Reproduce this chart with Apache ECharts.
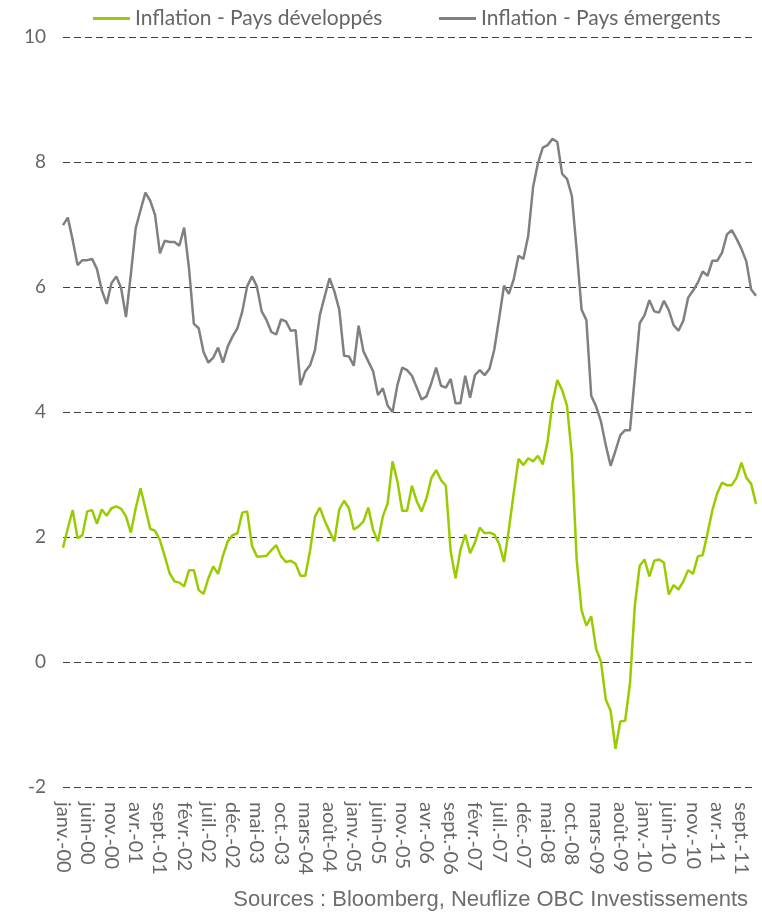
<!DOCTYPE html>
<html>
<head>
<meta charset="utf-8">
<script src="https://cdn.jsdelivr.net/npm/echarts@6/dist/echarts.min.js"></script>
<style>
  html, body { margin: 0; padding: 0; background: #fff; }
  #chart { width: 762px; height: 916px; }
</style>
</head>
<body>
<div id="chart"></div>
<script>
  // mois (format Excel fr), janv. 2000 -> déc. 2011
  const monthNames = ['janv.', 'févr.', 'mars', 'avr.', 'mai', 'juin', 'juil.', 'août', 'sept.', 'oct.', 'nov.', 'déc.'];
  const years = ['00', '01', '02', '03', '04', '05', '06', '07', '08', '09', '10', '11'];
  const categories = [];
  years.forEach(y => monthNames.forEach(m => categories.push(m + '-' + y)));

  const yTicks = { min: -2, max: 10, interval: 2 };

  // Inflation - Pays développés (%)
  const developpes = [
    1.83, 2.14, 2.43, 1.98, 2.03, 2.41, 2.43, 2.21, 2.44, 2.34, 2.46, 2.49,
    2.45, 2.33, 2.07, 2.46, 2.78, 2.46, 2.13, 2.10, 1.95, 1.69, 1.42, 1.29,
    1.27, 1.21, 1.47, 1.47, 1.15, 1.09, 1.34, 1.53, 1.41, 1.70, 1.93, 2.03,
    2.06, 2.39, 2.41, 1.86, 1.69, 1.69, 1.70, 1.79, 1.87, 1.69, 1.60, 1.62,
    1.57, 1.38, 1.38, 1.79, 2.33, 2.47, 2.26, 2.09, 1.93, 2.44, 2.58, 2.46,
    2.12, 2.17, 2.25, 2.47, 2.11, 1.93, 2.33, 2.54, 3.21, 2.89, 2.42, 2.42,
    2.82, 2.57, 2.41, 2.62, 2.94, 3.07, 2.91, 2.82, 1.77, 1.34, 1.79, 2.04,
    1.74, 1.91, 2.15, 2.06, 2.07, 2.04, 1.89, 1.60, 2.12, 2.70, 3.25, 3.15,
    3.26, 3.21, 3.30, 3.16, 3.53, 4.15, 4.51, 4.35, 4.10, 3.31, 1.63, 0.83,
    0.58, 0.73, 0.21, 0.01, -0.60, -0.78, -1.39, -0.95, -0.94, -0.34, 0.91, 1.54,
    1.64, 1.37, 1.62, 1.64, 1.59, 1.08, 1.23, 1.16, 1.29, 1.47, 1.41, 1.69,
    1.71, 2.06, 2.43, 2.70, 2.87, 2.83, 2.83, 2.95, 3.19, 2.95, 2.85, 2.53
  ];

  // Inflation - Pays émergents (%)
  const emergents = [
    6.99, 7.11, 6.75, 6.35, 6.43, 6.43, 6.45, 6.29, 5.95, 5.73, 6.06, 6.17,
    5.98, 5.52, 6.20, 6.94, 7.23, 7.51, 7.38, 7.15, 6.54, 6.74, 6.72, 6.72,
    6.66, 6.95, 6.30, 5.41, 5.34, 4.96, 4.79, 4.87, 5.03, 4.79, 5.05, 5.21,
    5.34, 5.61, 6.01, 6.17, 6.01, 5.61, 5.47, 5.28, 5.24, 5.48, 5.45, 5.30,
    5.31, 4.43, 4.65, 4.75, 4.99, 5.55, 5.85, 6.14, 5.93, 5.64, 4.90, 4.89,
    4.74, 5.38, 4.97, 4.81, 4.65, 4.27, 4.38, 4.10, 4.00, 4.43, 4.71, 4.67,
    4.58, 4.39, 4.20, 4.25, 4.46, 4.71, 4.42, 4.39, 4.53, 4.14, 4.14, 4.58,
    4.23, 4.59, 4.67, 4.59, 4.69, 5.00, 5.50, 6.02, 5.89, 6.12, 6.50, 6.45,
    6.82, 7.60, 7.98, 8.23, 8.27, 8.37, 8.32, 7.81, 7.73, 7.46, 6.59, 5.64,
    5.47, 4.26, 4.09, 3.85, 3.47, 3.14, 3.38, 3.63, 3.71, 3.71, 4.57, 5.42,
    5.55, 5.79, 5.61, 5.59, 5.78, 5.63, 5.39, 5.30, 5.46, 5.83, 5.94, 6.07,
    6.25, 6.18, 6.42, 6.42, 6.55, 6.84, 6.91, 6.77, 6.61, 6.41, 5.96, 5.86
  ];

  const textColor = '#666666';
  const fontFamily = 'Lato, "Open Sans", sans-serif';

  let chart = echarts.init(document.getElementById('chart'));
  let option = {
    animation: false,
    title: {
      text: 'Sources : Bloomberg, Neuflize OBC Investissements',
      right: 9,
      bottom: 0,
      textStyle: { color: '#6e6e6e', fontSize: 22, fontWeight: 'normal', fontFamily: '"Liberation Sans", Arial, sans-serif' }
    },
    legend: [
      {
        data: ['Inflation - Pays développés'],
        left: 88, top: 3,
        icon: 'rect', itemWidth: 37, itemHeight: 3, itemGap: 5,
        textStyle: { color: textColor, fontSize: 21, fontFamily: fontFamily }
      },
      {
        data: ['Inflation - Pays émergents'],
        left: 434, top: 3,
        icon: 'rect', itemWidth: 37, itemHeight: 3, itemGap: 5,
        textStyle: { color: textColor, fontSize: 21, fontFamily: fontFamily }
      }
    ],
    grid: { left: 63, right: 6, top: 37, bottom: 129, containLabel: false },
    xAxis: {
      type: 'category',
      data: categories,
      boundaryGap: false,
      axisLine: { show: false },
      axisTick: { show: false },
      axisLabel: {
        interval: 4,
        rotate: -90,
        margin: 15,
        color: textColor,
        fontSize: 20,
        fontFamily: fontFamily
      },
      splitLine: { show: false }
    },
    yAxis: {
      type: 'value',
      min: yTicks.min,
      max: yTicks.max,
      interval: yTicks.interval,
      axisLine: { show: false },
      axisTick: { show: false },
      axisLabel: { color: textColor, fontSize: 19, margin: 17, fontFamily: fontFamily },
      splitLine: { lineStyle: { color: '#404040', type: [7, 4], width: 1 } }
    },
    series: [
      {
        name: 'Inflation - Pays développés',
        type: 'line',
        data: developpes,
        showSymbol: false,
        symbol: 'none',
        lineStyle: { color: '#99cc00', width: 2.5 },
        itemStyle: { color: '#99cc00' }
      },
      {
        name: 'Inflation - Pays émergents',
        type: 'line',
        data: emergents,
        showSymbol: false,
        symbol: 'none',
        lineStyle: { color: '#808080', width: 2.5 },
        itemStyle: { color: '#808080' }
      }
    ]
  };
  chart.setOption(option);
</script>
</body>
</html>
